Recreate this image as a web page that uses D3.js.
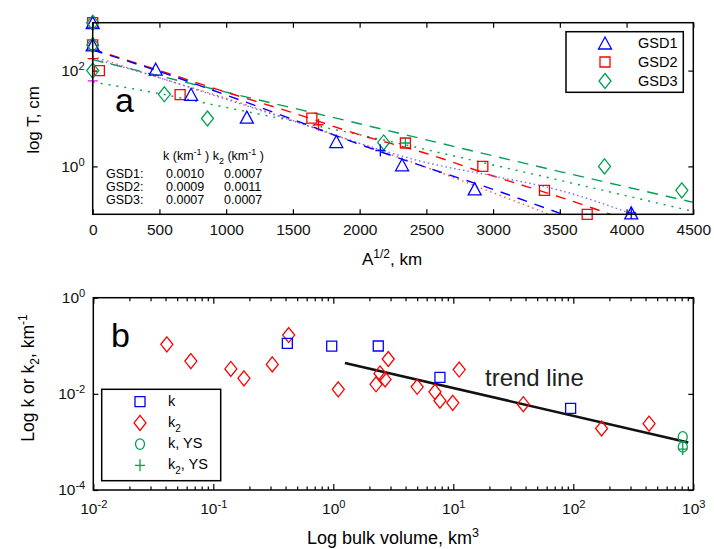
<!DOCTYPE html>
<html>
<head>
<meta charset="utf-8">
<style>
  body { margin: 0; background: #fff; }
  svg { font-family: Arial, "Liberation Sans", sans-serif; }
  .tick line { stroke: #000; stroke-width: 1.2; }
  .tick text { font-size: 15.5px; fill: #111; }
</style>
</head>
<body>
<svg width="714" height="549"></svg>
<script src="https://d3js.org/d3.v7.min.js"></script>
<script>
// ---- panel a: thickness vs A^1/2 ----
var gsd1 = [[0, 1000], [0, 343], [472, 107], [737, 32], [1155, 10.7], [1825, 3.3], [2318, 1.08], [2862, 0.34], [4035, 0.107]];
var gsd2 = [[0, 1000], [0, 343], [50, 100], [655, 31.6], [1642, 10.2], [2343, 3.08], [2923, 1.0], [3385, 0.316], [3705, 0.1]];
var gsd3 = [[0, 1000], [0, 343], [0, 100], [537, 32], [860, 10], [2180, 3.16], [3835, 1.0], [4414, 0.316]];
var plusA = [[0, 178, "red"], [1692, 7.4, "red"], [2155, 2.15, "blue"], [2343, 3.08, "green"], [4035, 0.107, "blue"], [0, 61, "magenta"]];

// fitted curves as [A^1/2, log10 T]
var blueDash = [[0, 2.43], [500, 1.98], [1000, 1.49], [1500, 0.98], [2000, 0.46], [2500, -0.02], [3000, -0.48], [3520, -1.0]];
var redDash = [[0, 2.45], [500, 2.0], [1000, 1.55], [1500, 1.12], [2000, 0.66], [2500, 0.27], [3000, -0.2], [3500, -0.64], [3880, -1.0]];
var redDot = [[0, 2.3], [500, 1.85], [1000, 1.42], [1500, 0.96], [2000, 0.48], [2500, -0.02], [3000, -0.55], [3420, -1.0]];
var blueDot = [[0, 2.25], [500, 1.85], [1000, 1.40], [1500, 0.95], [2000, 0.48], [2500, 0.08], [3000, -0.2], [3500, -0.5], [4050, -1.0]];
var greenDash = [[0, 2.23], [1000, 1.55], [2000, 0.89], [3000, 0.22], [4500, -0.75]];
var greenDot = [[0, 1.76], [500, 1.52], [1000, 1.23], [1500, 0.95], [2000, 0.66], [3000, 0.03], [4500, -0.94]];

var xTicksA = [0, 500, 1000, 1500, 2000, 2500, 3000, 3500, 4000, 4500];
var yTicksA = [1, 100];
var tableRows = [["GSD1:", "0.0010", "0.0007"], ["GSD2:", "0.0009", "0.0011"], ["GSD3:", "0.0007", "0.0007"]];

// ---- panel b: k vs bulk volume ----
var kPts = [[0.414, 0.112], [0.97, 0.0986], [2.37, 0.099], [7.74, 0.022], [95, 0.005]];
var k2Pts = [[0.041, 0.107], [0.065, 0.048], [0.14, 0.033], [0.18, 0.021], [0.31, 0.041], [0.425, 0.167], [1.10, 0.0124],
  [2.87, 0.053], [2.45, 0.0266], [2.70, 0.020], [2.27, 0.0158], [5.0, 0.014], [7.03, 0.011], [7.74, 0.0072], [9.9, 0.0065],
  [11.2, 0.032], [38.3, 0.0061], [172, 0.0019], [428, 0.0024]];
var kYS = [[817, 0.00127], [817, 0.00079]];
var k2YS = [[817, 0.00071]];
var trend = [[1.25, 0.044], [908, 0.00097]];
var xTicksB = [0.01, 0.1, 1, 10, 100, 1000];
var yTicksB = [1e-4, 1e-2, 1];

var BLUE = "#0000ff", RED = "#ff0000", GREEN = "#00a050";
var colorOf = { red: RED, blue: BLUE, green: GREEN, magenta: "#ff00ff" };

var svg = d3.select("svg");

// marker shapes
function tri() { return "M0,-6L6.5,6L-6.5,6Z"; }
function sq() { return "M-5,-5H5V5H-5Z"; }
function dia() { return "M0,-7.5L6,0L0,7.5L-6,0Z"; }
function plus() { return "M-5,0H5M0,-6V6"; }

function supLabel(sel, base, exp) {
  sel.text(null);
  sel.append("tspan").text(base);
  sel.append("tspan").attr("dy", "-0.55em").attr("font-size", "0.72em").text(exp);
}

// ================= panel a =================
var xa = d3.scaleLinear().domain([0, 4500]).range([92.7, 693.3]);
var ya = d3.scaleLog().domain([0.1, 1000]).range([214.3, 22.7]);
var ga = svg.append("g");

ga.append("g").attr("transform", "translate(0,214.3)")
  .call(d3.axisBottom(xa).tickValues(xTicksA).tickSize(-5).tickPadding(10).tickFormat(d3.format("d")))
  .call(function (g) { g.select(".domain").remove(); });
ga.append("g").attr("transform", "translate(0,22.7)")
  .call(d3.axisTop(xa).tickValues(xTicksA).tickSize(-5).tickFormat(""))
  .call(function (g) { g.select(".domain").remove(); });
ga.append("g").attr("transform", "translate(92.7,0)")
  .call(d3.axisLeft(ya).tickValues(yTicksA).tickSize(-5).tickPadding(8))
  .call(function (g) {
    g.select(".domain").remove();
    g.selectAll(".tick text").each(function (d) { supLabel(d3.select(this), "10", Math.round(Math.log10(d))); });
  });
ga.append("g").attr("transform", "translate(693.3,0)")
  .call(d3.axisRight(ya).tickValues(yTicksA).tickSize(-5).tickFormat(""))
  .call(function (g) { g.select(".domain").remove(); });

var lineA = d3.line().x(function (d) { return xa(d[0]); }).y(function (d) { return ya(Math.pow(10, d[1])); }).curve(d3.curveMonotoneX);
var curves = [
  { data: greenDash, color: GREEN, dash: "11,8" },
  { data: greenDot, color: GREEN, dash: "2,6" },
  { data: redDash, color: RED, dash: "10,8" },
  { data: redDot, color: "#ff5050", dash: "1.5,3.5" },
  { data: blueDot, color: "#7070ff", dash: "1.5,3" },
  { data: blueDash, color: BLUE, dash: "10,8" }
];
ga.append("defs").append("clipPath").attr("id", "clipA")
  .append("rect").attr("x", 92.7).attr("y", 22.7).attr("width", 600.6).attr("height", 191.6);
ga.append("g").attr("clip-path", "url(#clipA)").selectAll("path").data(curves).join("path")
  .attr("d", function (c) { return lineA(c.data); })
  .attr("fill", "none").attr("stroke", function (c) { return c.color; })
  .attr("stroke-width", 1.4).attr("stroke-dasharray", function (c) { return c.dash; });

function drawMarks(g, data, xs, ys, shape, color) {
  g.append("g").selectAll("path").data(data).join("path")
    .attr("transform", function (d) { return "translate(" + xs(d[0]) + "," + ys(d[1]) + ")"; })
    .attr("d", shape()).attr("fill", "none").attr("stroke", color).attr("stroke-width", 1.3);
}
drawMarks(ga, gsd2, xa, ya, sq, RED);
drawMarks(ga, gsd1, xa, ya, tri, BLUE);
drawMarks(ga, gsd3, xa, ya, dia, GREEN);
ga.append("g").selectAll("path").data(plusA).join("path")
  .attr("transform", function (d) { return "translate(" + xa(d[0]) + "," + ya(d[1]) + ")"; })
  .attr("d", plus()).attr("fill", "none").attr("stroke", function (d) { return colorOf[d[2]]; }).attr("stroke-width", 1.3);

ga.append("rect").attr("x", 92.7).attr("y", 22.7).attr("width", 600.6).attr("height", 191.6)
  .attr("fill", "none").attr("stroke", "#000").attr("stroke-width", 1.5);

// legend a
var legA = ga.append("g");
legA.append("rect").attr("x", 566).attr("y", 31.7).attr("width", 117.3).attr("height", 60.6)
  .attr("fill", "#fff").attr("stroke", "#000").attr("stroke-width", 1.5);
var legAItems = [["GSD1", tri, BLUE], ["GSD2", sq, RED], ["GSD3", dia, GREEN]];
legAItems.forEach(function (it, i) {
  var cy = 43 + i * 19;
  legA.append("path").attr("transform", "translate(605," + cy + ")").attr("d", it[1]())
    .attr("fill", "none").attr("stroke", it[2]).attr("stroke-width", 1.3);
  legA.append("text").attr("x", 638).attr("y", cy + 5).attr("font-size", 14.5).text(it[0]);
});

// labels a
ga.append("text").attr("x", 115).attr("y", 112).attr("font-size", 34).text("a");
var hdr = ga.append("text").attr("x", 163).attr("y", 160).attr("font-size", 12.5);
hdr.append("tspan").text("k (km");
hdr.append("tspan").attr("dy", -5).attr("font-size", 9).text("-1");
hdr.append("tspan").attr("dy", 5).text(" ) k");
hdr.append("tspan").attr("dy", 4).attr("font-size", 9).text("2");
hdr.append("tspan").attr("dy", -4).text(" (km");
hdr.append("tspan").attr("dy", -5).attr("font-size", 9).text("-1");
hdr.append("tspan").attr("dy", 5).text(" )");
tableRows.forEach(function (r, i) {
  var y = 177.5 + i * 13.2;
  ga.append("text").attr("x", 106).attr("y", y).attr("font-size", 12.5).text(r[0]);
  ga.append("text").attr("x", 166).attr("y", y).attr("font-size", 12.5).text(r[1]);
  ga.append("text").attr("x", 224).attr("y", y).attr("font-size", 12.5).text(r[2]);
});
ga.append("text").attr("transform", "translate(39,120) rotate(-90)").attr("text-anchor", "middle")
  .attr("font-size", 17).text("log T, cm");
var xt = ga.append("text").attr("x", 392).attr("y", 265).attr("text-anchor", "middle").attr("font-size", 17);
xt.append("tspan").text("A");
xt.append("tspan").attr("dy", -7).attr("font-size", 12).text("1/2");
xt.append("tspan").attr("dy", 7).text(", km");

// ================= panel b =================
var xb = d3.scaleLog().domain([0.01, 1000]).range([93.3, 693.3]);
var yb = d3.scaleLog().domain([1e-4, 1]).range([490, 297.7]);
var gb = svg.append("g");

var minorB = [];
xTicksB.slice(0, -1).forEach(function (d) { for (var m = 2; m <= 9; m++) minorB.push(d * m); });

gb.append("g").attr("transform", "translate(0,490)")
  .call(d3.axisBottom(xb).tickValues(xTicksB).tickSize(-6).tickPadding(13))
  .call(function (g) {
    g.select(".domain").remove();
    g.selectAll(".tick text").each(function (d) { supLabel(d3.select(this), "10", Math.round(Math.log10(d))); });
  });
gb.append("g").attr("transform", "translate(0,490)")
  .call(d3.axisBottom(xb).tickValues(minorB).tickSize(-3.5).tickFormat(""))
  .call(function (g) { g.select(".domain").remove(); });
gb.append("g").attr("transform", "translate(0,297.7)")
  .call(d3.axisTop(xb).tickValues(xTicksB).tickSize(-6).tickFormat(""))
  .call(function (g) { g.select(".domain").remove(); });
gb.append("g").attr("transform", "translate(0,297.7)")
  .call(d3.axisTop(xb).tickValues(minorB).tickSize(-3.5).tickFormat(""))
  .call(function (g) { g.select(".domain").remove(); });
gb.append("g").attr("transform", "translate(93.3,0)")
  .call(d3.axisLeft(yb).tickValues(yTicksB).tickSize(-5).tickPadding(8))
  .call(function (g) {
    g.select(".domain").remove();
    g.selectAll(".tick text").each(function (d) { supLabel(d3.select(this), "10", Math.round(Math.log10(d))); });
  });
gb.append("g").attr("transform", "translate(693.3,0)")
  .call(d3.axisRight(yb).tickValues(yTicksB).tickSize(-5).tickFormat(""))
  .call(function (g) { g.select(".domain").remove(); });

gb.append("path").datum(trend)
  .attr("d", d3.line().x(function (d) { return xb(d[0]); }).y(function (d) { return yb(d[1]); }))
  .attr("fill", "none").attr("stroke", "#111").attr("stroke-width", 2.6);

drawMarks(gb, k2Pts, xb, yb, dia, RED);
drawMarks(gb, kPts, xb, yb, sq, BLUE);
gb.append("g").selectAll("ellipse").data(kYS).join("ellipse")
  .attr("cx", function (d) { return xb(d[0]); }).attr("cy", function (d) { return yb(d[1]); })
  .attr("rx", 4.5).attr("ry", 5.3).attr("fill", "none").attr("stroke", GREEN).attr("stroke-width", 1.3);
drawMarks(gb, k2YS, xb, yb, plus, GREEN);

gb.append("rect").attr("x", 93.3).attr("y", 297.7).attr("width", 600).attr("height", 192.3)
  .attr("fill", "none").attr("stroke", "#000").attr("stroke-width", 1.5);

gb.append("text").attr("x", 485).attr("y", 386).attr("font-size", 24).attr("fill", "#222").text("trend line");
gb.append("text").attr("x", 111).attr("y", 347).attr("font-size", 34).text("b");

// legend b
var legB = gb.append("g");
legB.append("rect").attr("x", 101.7).attr("y", 389.3).attr("width", 119).attr("height", 91.4)
  .attr("fill", "#fff").attr("stroke", "#000").attr("stroke-width", 1.5);
var legBItems = [
  { lab: ["k"], draw: function (g) { g.append("path").attr("d", sq()).attr("stroke", BLUE); } },
  { lab: ["k", "2"], draw: function (g) { g.append("path").attr("d", dia()).attr("stroke", RED); } },
  { lab: ["k, YS"], draw: function (g) { g.append("ellipse").attr("rx", 4.5).attr("ry", 5.3).attr("stroke", GREEN); } },
  { lab: ["k", "2", ", YS"], draw: function (g) { g.append("path").attr("d", plus()).attr("stroke", GREEN); } }
];
legBItems.forEach(function (it, i) {
  var cy = 401.7 + i * 21.2;
  var m = legB.append("g").attr("transform", "translate(140," + cy + ")").attr("fill", "none").attr("stroke-width", 1.3);
  it.draw(m);
  var t = legB.append("text").attr("x", 168).attr("y", cy + 4).attr("font-size", 14.5);
  t.append("tspan").text(it.lab[0]);
  if (it.lab[1]) t.append("tspan").attr("dy", 5).attr("font-size", 10).text(it.lab[1]);
  if (it.lab[2]) t.append("tspan").attr("dy", -5).text(it.lab[2]);
});

var yl = gb.append("text").attr("transform", "translate(34,378) rotate(-90)").attr("text-anchor", "middle").attr("font-size", 17.5);
yl.append("tspan").text("Log k or k");
yl.append("tspan").attr("dy", 5).attr("font-size", 12).text("2");
yl.append("tspan").attr("dy", -5).text(", km");
yl.append("tspan").attr("dy", -7).attr("font-size", 12).text("-1");
var xl = gb.append("text").attr("x", 393).attr("y", 544).attr("text-anchor", "middle").attr("font-size", 18);
xl.append("tspan").text("Log bulk volume, km");
xl.append("tspan").attr("dy", -7).attr("font-size", 12.5).text("3");
</script>
</body>
</html>
